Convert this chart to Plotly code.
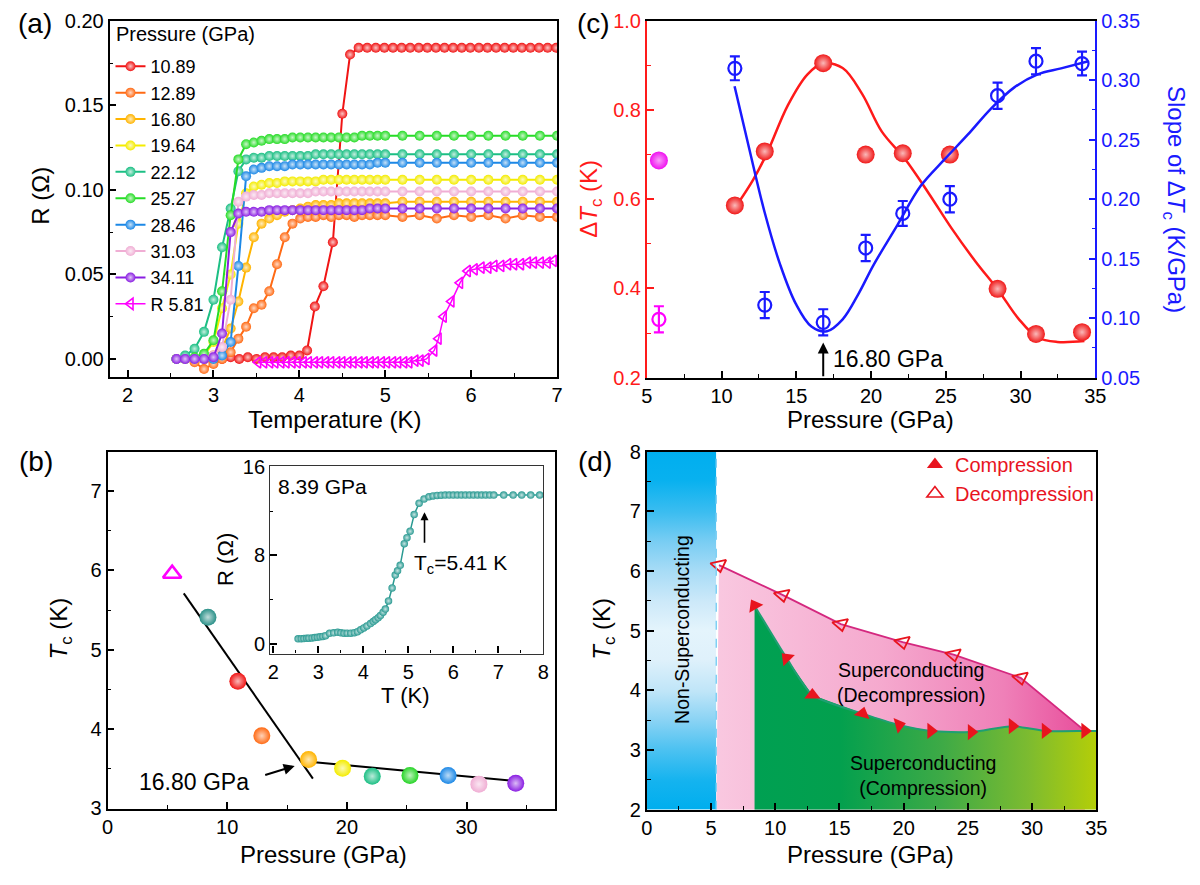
import base64
import plotly.graph_objects as go

W, H = 1200, 885
FONT = "Liberation Sans, Arial, Helvetica, sans-serif"

# ---------------- Panel (a): R(T) curves ----------------
T_GRID = [2.57, 2.67, 2.78, 2.89, 3.0, 3.1, 3.2, 3.29, 3.38, 3.47, 3.56, 3.65, 3.74, 3.83, 3.92,
          4.01, 4.1, 4.19, 4.28, 4.37, 4.46, 4.55, 4.64, 4.73, 4.82, 4.91, 5.0,
          5.2, 5.4, 5.6, 5.8, 6.0, 6.2, 6.4, 6.6, 6.8, 7.0]

T_1089 = [2.9, 3.0, 3.1, 3.2, 3.3, 3.4, 3.5, 3.6, 3.7, 3.8, 3.9, 4.0,
          4.09, 4.18, 4.28, 4.39, 4.5, 4.59, 4.69,
          4.79, 4.89, 4.99, 5.09, 5.19, 5.29, 5.39, 5.49, 5.59, 5.69, 5.79, 5.89, 5.99,
          6.09, 6.19, 6.29, 6.39, 6.49, 6.59, 6.69, 6.79, 6.89, 6.99]
R_1089 = [0.000, 0.001, 0.000, 0.001, 0.000, 0.001, 0.000, 0.001, 0.001, 0.001, 0.002, 0.002,
          0.005, 0.031, 0.043, 0.069, 0.145, 0.180, 0.184,
          0.184, 0.184, 0.184, 0.184, 0.184, 0.184, 0.184, 0.184, 0.184, 0.184, 0.184, 0.184, 0.184,
          0.184, 0.184, 0.184, 0.184, 0.184, 0.184, 0.184, 0.184, 0.184, 0.184]

R_1289 = [0.000, 0.000, -0.002, -0.006, -0.003, 0.000, 0.004, 0.012, 0.019, 0.030,
          0.032, 0.040, 0.056, 0.072, 0.080, 0.083, 0.084, 0.084, 0.085, 0.084,
          0.085, 0.085, 0.084, 0.085, 0.085, 0.085, 0.085,
          0.084, 0.085, 0.083, 0.085, 0.084, 0.085, 0.083, 0.085, 0.084, 0.084]
R_1680 = [0.000, 0.000, 0.000, 0.000, 0.002, 0.006, 0.018, 0.034, 0.054, 0.072,
          0.080, 0.083, 0.085, 0.087, 0.088, 0.089, 0.090, 0.091, 0.091, 0.091,
          0.092, 0.092, 0.092, 0.092, 0.092, 0.092, 0.092,
          0.093, 0.093, 0.093, 0.093, 0.093, 0.093, 0.093, 0.093, 0.093, 0.093]
R_1964 = [0.000, 0.000, 0.000, 0.002, 0.010, 0.030, 0.050, 0.080, 0.098, 0.102,
          0.103, 0.104, 0.104, 0.105, 0.105, 0.105, 0.105, 0.105, 0.106, 0.106,
          0.106, 0.106, 0.106, 0.106, 0.106, 0.106, 0.106,
          0.106, 0.106, 0.106, 0.106, 0.106, 0.106, 0.106, 0.106, 0.106, 0.106]
R_2212 = [0.000, 0.002, 0.006, 0.016, 0.035, 0.066, 0.089, 0.111, 0.118, 0.119,
          0.119, 0.120, 0.120, 0.120, 0.120, 0.120, 0.120, 0.121, 0.121, 0.121,
          0.121, 0.121, 0.121, 0.121, 0.121, 0.121, 0.121,
          0.121, 0.121, 0.121, 0.121, 0.121, 0.121, 0.121, 0.121, 0.121, 0.121]
R_2527 = [0.000, 0.000, 0.001, 0.003, 0.011, 0.040, 0.085, 0.118, 0.127, 0.128,
          0.129, 0.130, 0.130, 0.130, 0.131, 0.131, 0.131, 0.131, 0.131, 0.131,
          0.131, 0.131, 0.131, 0.132, 0.132, 0.132, 0.132,
          0.132, 0.132, 0.132, 0.132, 0.132, 0.132, 0.132, 0.132, 0.132, 0.132]
R_2846 = [0.000, 0.000, 0.000, 0.000, 0.000, 0.002, 0.010, 0.055, 0.108, 0.112,
          0.113, 0.114, 0.114, 0.114, 0.115, 0.115, 0.115, 0.115, 0.115, 0.115,
          0.115, 0.115, 0.115, 0.115, 0.115, 0.116, 0.116,
          0.116, 0.116, 0.116, 0.116, 0.116, 0.116, 0.116, 0.116, 0.116, 0.116]
R_3103 = [0.000, 0.000, 0.000, 0.000, 0.002, 0.007, 0.035, 0.093, 0.096, 0.097,
          0.097, 0.098, 0.098, 0.098, 0.098, 0.098, 0.098, 0.099, 0.099, 0.099,
          0.099, 0.099, 0.099, 0.099, 0.099, 0.099, 0.099,
          0.099, 0.099, 0.099, 0.099, 0.099, 0.099, 0.099, 0.099, 0.099, 0.099]
R_3411 = [0.000, 0.000, 0.000, 0.000, 0.001, 0.015, 0.075, 0.086, 0.087, 0.087,
          0.087, 0.088, 0.088, 0.088, 0.088, 0.088, 0.088, 0.088, 0.088, 0.088,
          0.088, 0.088, 0.088, 0.088, 0.089, 0.089, 0.089,
          0.089, 0.089, 0.089, 0.089, 0.089, 0.089, 0.089, 0.089, 0.089, 0.089]

T_R581 = [3.52, 3.59, 3.66, 3.72, 3.79, 3.85, 3.92, 3.98, 4.05, 4.11, 4.18, 4.24, 4.31, 4.37,
          4.44, 4.50, 4.57, 4.63, 4.70, 4.76, 4.83, 4.89, 4.96, 5.02, 5.09, 5.15, 5.22, 5.28,
          5.35, 5.41, 5.48,
          5.57, 5.62, 5.68, 5.77, 5.87, 5.96,
          6.04, 6.12, 6.20, 6.27, 6.35, 6.43, 6.50, 6.58, 6.66, 6.73, 6.81, 6.89, 6.96]
R_R581 = [-0.002, -0.002, -0.002, -0.002, -0.002, -0.002, -0.002, -0.002, -0.002, -0.002,
          -0.002, -0.002, -0.002, -0.002, -0.002, -0.002, -0.002, -0.002, -0.002, -0.002,
          -0.002, -0.002, -0.002, -0.002, -0.002, -0.002, -0.002, -0.002, -0.001, -0.001, 0.000,
          0.005, 0.012, 0.025, 0.034, 0.045, 0.052,
          0.053, 0.054, 0.054, 0.055, 0.055, 0.056, 0.056, 0.056, 0.057, 0.057, 0.057, 0.057, 0.058]

A_NAMES = ["10.89", "12.89", "16.80", "19.64", "22.12", "25.27", "28.46", "31.03", "34.11"]
A_COLORS = ["#f01414", "#ff6a14", "#ffb400", "#f4ec00", "#1cbf84", "#26dc26", "#1c88e6", "#f0aed4", "#8a1ee2"]
A_T = [T_1089, T_GRID, T_GRID, T_GRID, T_GRID, T_GRID, T_GRID, T_GRID, T_GRID]
A_R = [R_1089, R_1289, R_1680, R_1964, R_2212, R_2527, R_2846, R_3103, R_3411]
A_DEC_NAME = "R 5.81"
A_LEGEND_TITLE = "Pressure (GPa)"
MAGENTA = "#ff00ff"

# ---------------- Panel (b): Tc vs P ----------------
B_P = [8.39, 10.89, 12.89, 16.80, 19.64, 22.12, 25.27, 28.46, 31.03, 34.11]
B_TC = [5.41, 4.60, 3.91, 3.61, 3.50, 3.40, 3.41, 3.41, 3.30, 3.31]
B_COLORS = ["#2a9088", "#f01414", "#ff6a14", "#ffb400", "#f4ec00", "#1cbf84", "#26d426", "#1c88e6", "#f0aed4", "#8a1ee2"]
B_DEC_P = [5.40]
B_DEC_TC = [5.96]
B_FIT1_P = [6.37, 17.16]
B_FIT1_TC = [5.71, 3.37]
B_FIT2_P = [16.40, 34.02]
B_FIT2_TC = [3.59, 3.34]

INSET_T = [2.55, 2.62, 2.68, 2.74, 2.79, 2.86, 2.92, 2.98, 3.04, 3.10, 3.16, 3.25, 3.34, 3.43,
           3.50, 3.57, 3.64, 3.72, 3.80, 3.87, 3.94, 4.01, 4.08, 4.16, 4.22, 4.27, 4.33, 4.38,
           4.44, 4.49, 4.56, 4.64, 4.71, 4.76, 4.82, 4.91, 4.97, 5.04, 5.13, 5.24, 5.35, 5.46,
           5.55, 5.64, 5.73, 5.82, 5.91, 6.00, 6.09, 6.18, 6.27, 6.36, 6.45, 6.54, 6.63, 6.72,
           6.81, 6.90, 7.12, 7.33, 7.52, 7.72, 7.92]
INSET_R = [0.44, 0.45, 0.46, 0.48, 0.50, 0.52, 0.55, 0.58, 0.62, 0.66, 0.72, 0.94, 0.98, 1.03,
           0.98, 0.94, 0.95, 0.95, 1.00, 1.08, 1.25, 1.43, 1.60, 1.82, 2.00, 2.17, 2.35, 2.55,
           2.85, 3.13, 3.87, 5.04, 6.21, 6.60, 7.09, 9.05, 9.60, 10.17, 11.69, 12.72, 13.10, 13.30,
           13.38, 13.42, 13.44, 13.45, 13.45, 13.45, 13.45, 13.45, 13.45, 13.45, 13.45, 13.45, 13.45, 13.45,
           13.45, 13.45, 13.45, 13.45, 13.45, 13.45, 13.45]
INSET_TC = 5.41
INSET_COLOR = "#2a9a92"

# ---------------- Panel (c): dTc and slope ----------------
C_P = [10.89, 12.89, 16.80, 19.64, 22.12, 25.27, 28.46, 31.03, 34.11]
C_DTC = [0.586, 0.707, 0.905, 0.700, 0.703, 0.700, 0.399, 0.298, 0.302]
C_SLOPE = [0.310, 0.111, 0.0965, 0.159, 0.188, 0.200, 0.287, 0.316, 0.314]
C_SLOPE_ERR = [0.010, 0.011, 0.011, 0.011, 0.0105, 0.011, 0.011, 0.011, 0.010]
C_DEC_P = [5.81]
C_DEC_DTC = [0.687]
C_DEC_SLOPE = [0.099]
C_DEC_ERR = [0.011]
C_FIT_DTC_P = [11.0, 12.10, 13.01, 14.44, 15.75, 16.79, 18.10, 19.40, 20.71, 22.27, 23.84, 25.40,
               26.97, 28.53, 29.84, 31.14, 32.45, 34.27]
C_FIT_DTC = [0.586, 0.643, 0.701, 0.811, 0.880, 0.904, 0.894, 0.836, 0.752, 0.690, 0.614, 0.534,
             0.461, 0.395, 0.333, 0.290, 0.280, 0.282]
C_FIT_SL_P = [10.87, 11.84, 12.88, 13.92, 14.97, 16.01, 17.05, 18.10, 19.14, 20.18, 21.75, 23.31,
              24.88, 26.45, 28.01, 29.58, 31.14, 32.71, 34.53]
C_FIT_SL = [0.295, 0.243, 0.189, 0.145, 0.112, 0.093, 0.089, 0.099, 0.120, 0.145, 0.178, 0.211,
            0.233, 0.254, 0.276, 0.294, 0.305, 0.310, 0.316]
C_MARK_P = 16.80

# ---------------- Panel (d): phase diagram ----------------
D_X_RANGE = [0, 35]
D_Y_RANGE = [2, 8]
D_NS_BOUND = 5.41
D_COMP_P = [8.39, 10.89, 12.89, 16.80, 19.64, 22.12, 25.27, 28.46, 31.03, 34.11]
D_COMP_TC = [5.42, 4.54, 3.92, 3.61, 3.42, 3.32, 3.30, 3.40, 3.32, 3.32]
D_DEC_P = [5.62, 10.56, 15.11, 19.92, 23.89, 29.11]
D_DEC_TC = [6.10, 5.60, 5.11, 4.81, 4.60, 4.21]

RED_D = "#e8141e"

# vertical blue gradient of the non-superconducting band (style only)
NS_STOPS = [(0.00, "#00aeef"), (0.08, "#08b1ef"), (0.17, "#3cbdf0"), (0.25, "#78cdf3"),
            (0.33, "#a6dbf6"), (0.42, "#cde9f9"), (0.50, "#e4f4fc"), (0.58, "#dff1fb"),
            (0.67, "#bfe5f8"), (0.75, "#8ad3f4"), (0.83, "#4ec2f1"), (0.92, "#14b3ef"),
            (1.00, "#00aeee")]
svg = ('<svg xmlns="http://www.w3.org/2000/svg" width="20" height="200" viewBox="0 0 20 200" '
       'preserveAspectRatio="none"><defs><linearGradient id="g" x1="0" y1="0" x2="0" y2="1">'
       + "".join(f'<stop offset="{o}" stop-color="{c}"/>' for o, c in NS_STOPS)
       + '</linearGradient></defs><rect x="0" y="0" width="20" height="200" fill="url(#g)"/></svg>')
NS_IMG = "data:image/svg+xml;base64," + base64.b64encode(svg.encode()).decode()


def tint(hexcol, f):
    h = hexcol.lstrip('#')
    r, g, b = int(h[0:2], 16), int(h[2:4], 16), int(h[4:6], 16)
    r = int(r + (255 - r) * f)
    g = int(g + (255 - g) * f)
    b = int(b + (255 - b) * f)
    return f"rgb({r},{g},{b})"


def pxx(p):
    return p / W


def pxy(p):
    return 1 - p / H


fig = go.Figure()

# ---- (a)
for name, t, r, c in zip(A_NAMES, A_T, A_R, A_COLORS):
    fig.add_trace(go.Scatter(
        x=t, y=r, mode="lines+markers", name=name,
        line=dict(color=c, width=2),
        marker=dict(size=10, color=c, gradient=dict(type="radial", color=tint(c, 0.75))),
        xaxis="x", yaxis="y", legend="legend"))
fig.add_trace(go.Scatter(
    x=T_R581, y=R_R581, mode="lines+markers", name=A_DEC_NAME,
    line=dict(color=MAGENTA, width=1.5),
    marker=dict(size=10, symbol="triangle-left-open", color=MAGENTA, line=dict(width=1.6, color=MAGENTA)),
    xaxis="x", yaxis="y", legend="legend"))

# ---- (b)
fig.add_trace(go.Scatter(x=B_FIT1_P, y=B_FIT1_TC, mode="lines", line=dict(color="black", width=2),
                         xaxis="x2", yaxis="y2", showlegend=False))
fig.add_trace(go.Scatter(x=B_FIT2_P, y=B_FIT2_TC, mode="lines", line=dict(color="black", width=2),
                         xaxis="x2", yaxis="y2", showlegend=False))
fig.add_trace(go.Scatter(
    x=B_P, y=B_TC, mode="markers",
    marker=dict(size=17, color=B_COLORS, gradient=dict(type="radial", color=[tint(c, 0.7) for c in B_COLORS])),
    xaxis="x2", yaxis="y2", showlegend=False))
fig.add_trace(go.Scatter(
    x=B_DEC_P, y=B_DEC_TC, mode="markers",
    marker=dict(size=16, symbol="triangle-up-open", color=MAGENTA, line=dict(width=2.5, color=MAGENTA)),
    xaxis="x2", yaxis="y2", showlegend=False))

# inset
fig.add_trace(go.Scatter(
    x=INSET_T, y=INSET_R, mode="lines+markers",
    line=dict(color=INSET_COLOR, width=1.5),
    marker=dict(size=7.5, color=INSET_COLOR, gradient=dict(type="radial", color=tint(INSET_COLOR, 0.75))),
    xaxis="x6", yaxis="y6", showlegend=False))

# ---- (c)
fig.add_trace(go.Scatter(x=C_FIT_DTC_P, y=C_FIT_DTC, mode="lines", line=dict(color="#ff1a1a", width=2.5, shape="spline"),
                         xaxis="x3", yaxis="y3", showlegend=False))
fig.add_trace(go.Scatter(x=C_FIT_SL_P, y=C_FIT_SL, mode="lines", line=dict(color="#1a1aff", width=2.5, shape="spline"),
                         xaxis="x3", yaxis="y4", showlegend=False))
fig.add_trace(go.Scatter(
    x=C_P, y=C_DTC, mode="markers",
    marker=dict(size=18, color="#f01818", gradient=dict(type="radial", color=tint("#f01818", 0.7))),
    xaxis="x3", yaxis="y3", showlegend=False))
fig.add_trace(go.Scatter(
    x=C_DEC_P, y=C_DEC_DTC, mode="markers",
    marker=dict(size=18, color="#f010f0", gradient=dict(type="radial", color=tint("#f010f0", 0.6))),
    xaxis="x3", yaxis="y3", showlegend=False))
fig.add_trace(go.Scatter(
    x=C_P, y=C_SLOPE, mode="markers",
    marker=dict(size=13, symbol="circle-open", color="#1a1aff", line=dict(width=2.2, color="#1a1aff")),
    error_y=dict(type="data", array=C_SLOPE_ERR, color="#1a1aff", thickness=2.2, width=5),
    xaxis="x3", yaxis="y4", showlegend=False))
fig.add_trace(go.Scatter(
    x=C_DEC_P, y=C_DEC_SLOPE, mode="markers",
    marker=dict(size=13, symbol="circle-open", color=MAGENTA, line=dict(width=2.2, color=MAGENTA)),
    error_y=dict(type="data", array=C_DEC_ERR, color=MAGENTA, thickness=2.2, width=5),
    xaxis="x3", yaxis="y4", showlegend=False))

# ---- (d)
fig.add_trace(go.Scatter(
    x=[D_NS_BOUND] + D_DEC_P + [D_COMP_P[-1], D_COMP_P[-1], D_NS_BOUND],
    y=[D_Y_RANGE[0]] + D_DEC_TC + [D_COMP_TC[-1], D_Y_RANGE[0], D_Y_RANGE[0]],
    mode="none", fill="toself",
    fillgradient=dict(type="horizontal", colorscale=[[0, "#f9c8e0"], [0.45, "#f5a9ce"], [0.78, "#ef80b8"],
                                                    [1, "#e84f9c"]]),
    xaxis="x5", yaxis="y5", showlegend=False, hoverinfo="skip"))
fig.add_trace(go.Scatter(
    x=[D_COMP_P[0]] + D_COMP_P + [D_X_RANGE[1], D_X_RANGE[1], D_COMP_P[0]],
    y=[D_Y_RANGE[0]] + D_COMP_TC + [D_COMP_TC[-1], D_Y_RANGE[0], D_Y_RANGE[0]],
    mode="none", fill="toself",
    fillgradient=dict(type="horizontal", colorscale=[[0, "#00a052"], [0.25, "#03a04e"], [0.55, "#3eaa46"],
                                                    [0.8, "#7cbb30"], [1, "#b4ce08"]]),
    xaxis="x5", yaxis="y5", showlegend=False, hoverinfo="skip"))
fig.add_trace(go.Scatter(
    x=D_COMP_P + [D_X_RANGE[1]], y=D_COMP_TC + [D_COMP_TC[-1]], mode="lines",
    line=dict(color="#1f9f72", width=2, shape="spline", smoothing=0.6),
    xaxis="x5", yaxis="y5", showlegend=False, hoverinfo="skip"))
fig.add_trace(go.Scatter(
    x=D_DEC_P + [D_COMP_P[-1]], y=D_DEC_TC + [D_COMP_TC[-1]], mode="lines",
    line=dict(color="#d4287f", width=1.8),
    xaxis="x5", yaxis="y5", showlegend=False, hoverinfo="skip"))
fig.add_trace(go.Scatter(
    x=D_DEC_P, y=D_DEC_TC, mode="markers",
    marker=dict(size=14, symbol="triangle-down-open", color=RED_D, angle=-12, line=dict(width=1.8, color=RED_D)),
    xaxis="x5", yaxis="y5", showlegend=False))
fig.add_trace(go.Scatter(
    x=D_COMP_P, y=D_COMP_TC, mode="markers",
    marker=dict(size=14, symbol="triangle-up", color=RED_D,
                angle=[-30, -45, 0, 15, 75, 90, 90, 90, 90, 90]),
    xaxis="x5", yaxis="y5", showlegend=False))
# legend entries for (d)
fig.add_trace(go.Scatter(x=[None], y=[None], mode="markers", name="Compression",
                         marker=dict(size=14, symbol="triangle-up", color=RED_D),
                         xaxis="x5", yaxis="y5", legend="legend2"))
fig.add_trace(go.Scatter(x=[None], y=[None], mode="markers", name="Decompression",
                         marker=dict(size=14, symbol="triangle-up-open", color=RED_D, line=dict(width=1.6, color=RED_D)),
                         xaxis="x5", yaxis="y5", legend="legend2"))


# ---------------- Axes ----------------
def ax(**kw):
    base = dict(showline=True, linecolor="black", linewidth=1.6, mirror=True,
                ticks="inside", ticklen=7, tickwidth=1.5, tickcolor="black",
                showgrid=False, zeroline=False,
                tickfont=dict(size=20, family=FONT, color="black"),
                minor=dict(ticks="inside", ticklen=4, tickwidth=1.3, tickcolor="black"))
    base.update(kw)
    return base


def mn(d, color="black", tl=4):
    return dict(ticks="inside", ticklen=tl, tickwidth=1.3, tickcolor=color, dtick=d)


layout = dict(
    width=W, height=H, margin=dict(l=0, r=0, t=0, b=0),
    paper_bgcolor="white", plot_bgcolor="rgba(0,0,0,0)",
    font=dict(family=FONT, color="black"),
    hovermode=False,
    xaxis=ax(domain=[pxx(105), pxx(559)], range=[1.79, 7.0], tick0=2, dtick=1, anchor="y", minor=mn(0.5)),
    yaxis=ax(domain=[pxy(375), pxy(10)], range=[-0.0105, 0.2], tick0=0, dtick=0.05, tickformat=".2f",
             anchor="x", minor=mn(0.025)),
    xaxis2=ax(domain=[pxx(103), pxx(557)], range=[0, 37.4], tick0=0, dtick=10, anchor="y2", minor=mn(5)),
    yaxis2=ax(domain=[pxy(818), pxy(452)], range=[2.99, 7.5], tick0=3, dtick=1, anchor="x2", minor=mn(0.5)),
    xaxis6=ax(domain=[pxx(268), pxx(545)], range=[1.93, 8.0], tick0=2, dtick=1, anchor="y6",
              linecolor="#333", linewidth=1.3, minor=mn(0.5, tl=3)),
    yaxis6=ax(domain=[pxy(659), pxy(467)], range=[-0.9, 16.05], tick0=0, dtick=8, anchor="x6",
              linecolor="#333", linewidth=1.3, minor=mn(4, tl=3)),
    xaxis3=ax(domain=[pxx(650), pxx(1105)], range=[5, 35], tick0=5, dtick=5, anchor="y3", minor=mn(2.5)),
    yaxis3=ax(domain=[pxy(376), pxy(10)], range=[0.2, 1.0], tick0=0.2, dtick=0.2, tickformat=".1f",
              anchor="x3", mirror=False, linecolor="#ff1a1a", tickcolor="#ff1a1a",
              tickfont=dict(size=20, family=FONT, color="#ff1a1a"), minor=mn(0.1, "#ff1a1a")),
    yaxis4=ax(domain=[pxy(376), pxy(10)], range=[0.05, 0.35], tick0=0.05, dtick=0.05, tickformat=".2f",
              anchor="x3", overlaying="y3", side="right", mirror=False,
              linecolor="#1a1aff", tickcolor="#1a1aff",
              tickfont=dict(size=20, family=FONT, color="#1a1aff"), minor=mn(0.025, "#1a1aff")),
    xaxis5=ax(domain=[pxx(650), pxx(1106)], range=D_X_RANGE, tick0=0, dtick=5, anchor="y5", minor=mn(2.5)),
    yaxis5=ax(domain=[pxy(819), pxy(452)], range=D_Y_RANGE, tick0=2, dtick=1, anchor="x5", minor=mn(0.5)),
    legend=dict(x=pxx(106), y=pxy(38), xanchor="left", yanchor="top", bgcolor="rgba(0,0,0,0)",
                borderwidth=0, font=dict(size=18, family=FONT, color="black"),
                tracegroupgap=0, itemwidth=30),
    legend2=dict(x=pxx(922), y=pxy(445), xanchor="left", yanchor="top", bgcolor="rgba(0,0,0,0)",
                 borderwidth=0, font=dict(size=20, family=FONT, color=RED_D), itemwidth=30),
    images=[dict(source=NS_IMG, xref="x5", yref="y5", x=D_X_RANGE[0], y=D_Y_RANGE[1],
                 sizex=D_NS_BOUND - D_X_RANGE[0], sizey=D_Y_RANGE[1] - D_Y_RANGE[0],
                 xanchor="left", yanchor="top", sizing="stretch", layer="below")],
)
fig.update_layout(**layout)

ann = []


def txt(x, y, s, size=24, angle=0, color="black", family=FONT, xanchor="center", yanchor="middle",
        xref="paper", yref="paper"):
    ann.append(dict(x=x, y=y, xref=xref, yref=yref, text=s, showarrow=False, textangle=angle,
                    font=dict(size=size, color=color, family=family), xanchor=xanchor, yanchor=yanchor))


# panel labels
txt(pxx(29), pxy(13), "(a)", size=28)
txt(pxx(30), pxy(462), "(b)", size=28)
txt(pxx(596), pxy(13), "(c)", size=28)
txt(pxx(597), pxy(462), "(d)", size=28)
# legend title of (a)
txt(pxx(110), pxy(24), A_LEGEND_TITLE, size=20, xanchor="left")
# axis titles
txt(pxx(35), pxy(190), "R (Ω)", angle=-90)
txt(pxx(333), pxy(419), "Temperature (K)")
txt(pxx(55), pxy(633), "<i>T</i><sub>c</sub> (K)", angle=-90)
txt(pxx(322), pxy(865), "Pressure (GPa)")
txt(pxx(222), pxy(562), "R (Ω)", size=22, angle=-90)
txt(pxx(405), pxy(702), "T (K)", size=22)
txt(pxx(593), pxy(193), "Δ<i>T</i><sub>c</sub> (K)", angle=-90, color="#ff1a1a")
txt(pxx(1186), pxy(193), "Slope of Δ<i>T</i><sub>c</sub> (K/GPa)", angle=90, color="#1a1aff")
txt(pxx(877), pxy(419), "Pressure (GPa)")
txt(pxx(606), pxy(633), "<i>T</i><sub>c</sub> (K)", angle=-90)
txt(pxx(877), pxy(865), "Pressure (GPa)")

# panel (b) annotations
txt(7.2, 3.33, "16.80 GPa", size=23, xref="x2", yref="y2")
ann.append(dict(x=15.64, y=3.53, ax=13.05, ay=3.41, xref="x2", yref="y2", axref="x2", ayref="y2",
                showarrow=True, arrowhead=2, arrowsize=1.1, arrowwidth=2, arrowcolor="black", text=""))
txt(2.05, 14.27, "8.39 GPa", size=21, xref="x6", yref="y6", xanchor="left")
txt(5.08, 7.25, "T<sub>c</sub>=5.41 K", size=21, xref="x6", yref="y6", xanchor="left")
ann.append(dict(x=INSET_TC - 0.05, y=11.9, ax=INSET_TC - 0.05, ay=9.0, xref="x6", yref="y6", axref="x6", ayref="y6",
                showarrow=True, arrowhead=2, arrowsize=1.0, arrowwidth=1.6, arrowcolor="black", text=""))

# panel (c) annotation
ann.append(dict(x=C_MARK_P, y=0.279, ax=C_MARK_P, ay=0.2, xref="x3", yref="y3", axref="x3", ayref="y3",
                showarrow=True, arrowhead=2, arrowsize=1.1, arrowwidth=2, arrowcolor="black", text=""))
txt(17.3, 0.242, "16.80 GPa", size=23, xref="x3", yref="y3", xanchor="left")

# panel (d) labels
txt(2.74, 5.03, "Non-Superconducting", size=19.5, angle=-90, xref="x5", yref="y5")
txt(20.6, 4.13, "Superconducting<br>(Decompression)", size=19.5, xref="x5", yref="y5")
txt(21.5, 2.58, "Superconducting<br>(Compression)", size=19.5, xref="x5", yref="y5")

fig.update_layout(annotations=ann)

# dashed boundary in (d)
fig.add_shape(type="line", x0=D_NS_BOUND, x1=D_NS_BOUND, y0=D_Y_RANGE[0], y1=D_Y_RANGE[1],
              xref="x5", yref="y5", line=dict(color="#7fd0f4", width=1.5, dash="dash"))

fig.write_html("out.html")
